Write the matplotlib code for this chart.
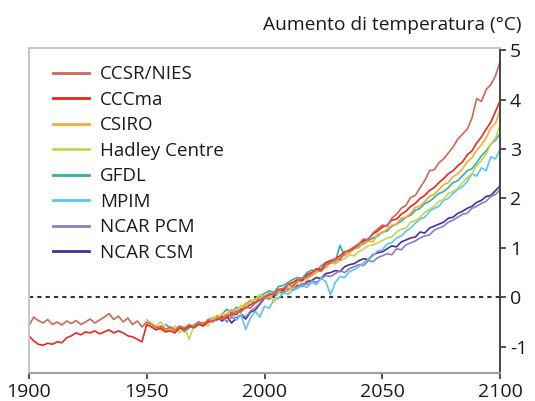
import numpy as np
import matplotlib
matplotlib.use('Agg')
import matplotlib.pyplot as plt

plt.rcParams['font.family'] = ['Open Sans', 'DejaVu Sans']

# model names, colours, first year (values every 2 years up to 2100)
models = ['CCSR/NIES', 'CCCma', 'CSIRO', 'Hadley Centre', 'GFDL', 'MPIM', 'NCAR PCM', 'NCAR CSM']
colors = ['#d0665a', '#e8271d', '#f8a936', '#c6d64c', '#2fb3a4', '#5cc4f0', '#8b7bc9', '#4b2c9c']
start_years = [1900, 1900, 1954, 1950, 1958, 1986, 1980, 1980]

ccsr_nies = [
    -0.58, -0.40, -0.47, -0.52, -0.45, -0.55, -0.50, -0.56, -0.48, -0.53,
    -0.47, -0.55, -0.50, -0.44, -0.52, -0.46, -0.40, -0.33, -0.45, -0.38,
    -0.50, -0.42, -0.55, -0.48, -0.60, -0.50, -0.55, -0.62, -0.58, -0.65,
    -0.60, -0.66, -0.58, -0.62, -0.55, -0.60, -0.50, -0.54, -0.46, -0.50,
    -0.42, -0.45, -0.36, -0.38, -0.28, -0.30, -0.20, -0.22, -0.12, -0.06,
    0.00, 0.08, 0.06, 0.16, 0.18, 0.26, 0.22, 0.34, 0.38, 0.40,
    0.48, 0.56, 0.52, 0.66, 0.70, 0.78, 0.76, 0.90, 0.96, 1.02,
    1.08, 1.18, 1.16, 1.30, 1.38, 1.46, 1.44, 1.60, 1.68, 1.80,
    1.86, 2.02, 2.06, 2.22, 2.36, 2.56, 2.58, 2.72, 2.80, 2.92,
    3.04, 3.20, 3.30, 3.40, 3.62, 4.02, 3.96, 4.20, 4.30, 4.48,
    4.78]
cccma = [
    -0.78, -0.88, -0.95, -0.97, -0.93, -0.95, -0.90, -0.92, -0.82, -0.78,
    -0.72, -0.76, -0.70, -0.72, -0.68, -0.74, -0.70, -0.66, -0.72, -0.68,
    -0.72, -0.78, -0.80, -0.85, -0.90, -0.55, -0.60, -0.66, -0.62, -0.70,
    -0.68, -0.72, -0.62, -0.66, -0.58, -0.62, -0.55, -0.58, -0.50, -0.48,
    -0.45, -0.40, -0.42, -0.32, -0.35, -0.25, -0.22, -0.15, -0.10, -0.05,
    0.00, 0.06, 0.08, 0.16, 0.14, 0.26, 0.30, 0.36, 0.34, 0.46,
    0.50, 0.58, 0.56, 0.70, 0.74, 0.78, 0.84, 0.92, 0.94, 1.00,
    1.08, 1.14, 1.18, 1.28, 1.34, 1.42, 1.46, 1.56, 1.58, 1.68,
    1.74, 1.84, 1.90, 2.00, 2.06, 2.16, 2.22, 2.32, 2.40, 2.50,
    2.56, 2.66, 2.74, 2.88, 2.96, 3.12, 3.24, 3.40, 3.54, 3.76,
    3.98]
csiro = [
    -0.58, -0.66, -0.70, -0.62, -0.70, -0.60, -0.63, -0.58, -0.61, -0.52,
    -0.55, -0.47, -0.45, -0.36, -0.42, -0.33, -0.26, -0.30, -0.22, -0.12,
    -0.10, -0.03, -0.05, 0.04, 0.00, 0.10, 0.14, 0.16, 0.12, 0.26,
    0.30, 0.33, 0.42, 0.44, 0.50, 0.56, 0.60, 0.70, 0.68, 0.80,
    0.86, 0.90, 0.98, 1.00, 1.12, 1.14, 1.12, 1.28, 1.30, 1.38,
    1.46, 1.48, 1.60, 1.62, 1.70, 1.82, 1.84, 1.94, 2.04, 2.08,
    2.18, 2.28, 2.32, 2.44, 2.50, 2.60, 2.74, 2.82, 2.98, 3.08,
    3.22, 3.42, 3.52, 3.80]
hadley = [
    -0.45, -0.52, -0.58, -0.50, -0.64, -0.66, -0.58, -0.72, -0.62, -0.85,
    -0.58, -0.54, -0.50, -0.58, -0.40, -0.44, -0.32, -0.38, -0.24, -0.28,
    -0.16, -0.22, -0.08, -0.04, 0.06, -0.02, 0.08, -0.10, 0.10, 0.16,
    0.20, 0.18, 0.30, 0.38, 0.34, 0.44, 0.52, 0.55, 0.60, 0.70,
    0.68, 0.74, 0.78, 0.86, 0.84, 0.92, 0.98, 1.04, 1.06, 1.10,
    1.15, 1.20, 1.22, 1.32, 1.38, 1.40, 1.52, 1.55, 1.62, 1.72,
    1.78, 1.84, 1.94, 1.98, 2.10, 2.14, 2.20, 2.32, 2.42, 2.50,
    2.66, 2.76, 2.90, 3.10, 3.22, 3.50]
gfdl = [
    -0.55, -0.62, -0.68, -0.58, -0.70, -0.62, -0.56, -0.50, -0.58, -0.45,
    -0.42, -0.45, -0.34, -0.24, -0.32, -0.20, -0.28, -0.14, -0.06, -0.12,
    0.02, 0.08, 0.13, 0.10, 0.22, 0.24, 0.30, 0.36, 0.40, 0.38,
    0.50, 0.55, 0.52, 0.64, 0.70, 0.74, 0.72, 1.05, 0.84, 0.92,
    0.98, 1.04, 1.08, 1.14, 1.20, 1.24, 1.32, 1.34, 1.44, 1.48,
    1.54, 1.62, 1.66, 1.76, 1.80, 1.90, 1.94, 2.02, 2.10, 2.14,
    2.22, 2.32, 2.36, 2.46, 2.56, 2.60, 2.72, 2.86, 2.96, 3.10,
    3.18, 3.32]
mpim = [
    -0.30, -0.45, -0.35, -0.65, -0.42, -0.28, -0.40, -0.18, -0.22, -0.05,
    -0.02, 0.10, 0.06, 0.14, 0.18, 0.24, 0.20, 0.30, 0.26, 0.38,
    0.32, 0.05, 0.30, 0.42, 0.40, 0.52, 0.56, 0.62, 0.70, 0.76,
    0.84, 0.94, 0.96, 1.08, 1.10, 1.20, 1.24, 1.34, 1.40, 1.50,
    1.58, 1.62, 1.74, 1.80, 1.84, 1.96, 2.00, 2.10, 2.18, 2.24,
    2.34, 2.50, 2.45, 2.62, 2.56, 2.84, 2.80, 3.00]
ncar_pcm = [
    -0.45, -0.38, -0.50, -0.40, -0.46, -0.34, -0.40, -0.28, -0.22, -0.12,
    0.00, -0.04, 0.06, 0.10, 0.08, 0.18, 0.16, 0.22, 0.28, 0.26,
    0.34, 0.30, 0.38, 0.44, 0.42, 0.48, 0.54, 0.50, 0.58, 0.62,
    0.66, 0.64, 0.74, 0.72, 0.80, 0.84, 0.88, 0.86, 0.98, 0.96,
    1.06, 1.10, 1.14, 1.20, 1.24, 1.26, 1.36, 1.40, 1.44, 1.52,
    1.56, 1.62, 1.68, 1.70, 1.80, 1.84, 1.90, 1.94, 2.04, 2.08,
    2.18]
ncar_csm = [
    -0.40, -0.48, -0.38, -0.52, -0.42, -0.36, -0.44, -0.30, -0.26, -0.14,
    -0.02, 0.04, 0.02, 0.12, 0.10, 0.16, 0.20, 0.24, 0.22, 0.32,
    0.34, 0.40, 0.38, 0.48, 0.50, 0.54, 0.52, 0.62, 0.66, 0.68,
    0.74, 0.78, 0.76, 0.86, 0.90, 0.92, 0.98, 1.04, 1.02, 1.12,
    1.16, 1.20, 1.22, 1.32, 1.30, 1.40, 1.44, 1.48, 1.52, 1.60,
    1.62, 1.70, 1.74, 1.80, 1.84, 1.92, 1.96, 2.04, 2.06, 2.16,
    2.25]

series = [ccsr_nies, cccma, csiro, hadley, gfdl, mpim, ncar_pcm, ncar_csm]

fig = plt.figure(figsize=(5.35, 4.01), dpi=100)
ax = fig.add_axes([0.054, 0.070, 0.881, 0.810])

# disegna dall'ultimo al primo, così i rossi stanno sopra
lines = {}
for name, col, y0, vals in reversed(list(zip(models, colors, start_years, series))):
    yrs = y0 + 2 * np.arange(len(vals))
    ln, = ax.plot(yrs, vals, color=col, lw=1.2, label=name)
    lines[name] = ln

ax.axhline(0, color='#333333', lw=1.5, ls=(0, (2, 2)), zorder=0)

ax.set_xlim(1900, 2100)
ax.set_ylim(-1.53, 5.04)
ax.set_xticks([1900, 1950, 2000, 2050, 2100])
ax.set_yticks([-1, 0, 1, 2, 3, 4, 5])
ax.set_yticklabels(['-1', '0', '1', '2', '3', '4', '5'])
ax.yaxis.tick_right()
ax.tick_params(axis='both', labelsize=14, direction='out', length=4, width=1.2,
               colors='#333333', labelcolor='#1a1a1a')
ax.tick_params(axis='y', pad=3)
ax.tick_params(axis='x', pad=3)

for s in ['left', 'top']:
    ax.spines[s].set_color('#c8c8c8')
    ax.spines[s].set_linewidth(1.5)
ax.spines['bottom'].set_color('#a0a0a0')
ax.spines['bottom'].set_linewidth(1.5)
ax.spines['right'].set_color('#444444')
ax.spines['right'].set_linewidth(1.4)

leg = ax.legend([lines[m] for m in models], models, loc='upper left',
                bbox_to_anchor=(0.051, 0.947), frameon=False, fontsize=13.5,
                handlelength=1.9, handletextpad=0.62, labelspacing=0.40,
                borderpad=0, borderaxespad=0)
for h in leg.get_lines():
    h.set_linewidth(2.0)
for t in leg.get_texts():
    t.set_color('#1a1a1a')

fig.text(0.974, 1 - 25 / 401, 'Aumento di temperatura (°C)', ha='right', va='center',
         fontsize=13.8, color='#1a1a1a')

plt.savefig('out.png', dpi=100)
